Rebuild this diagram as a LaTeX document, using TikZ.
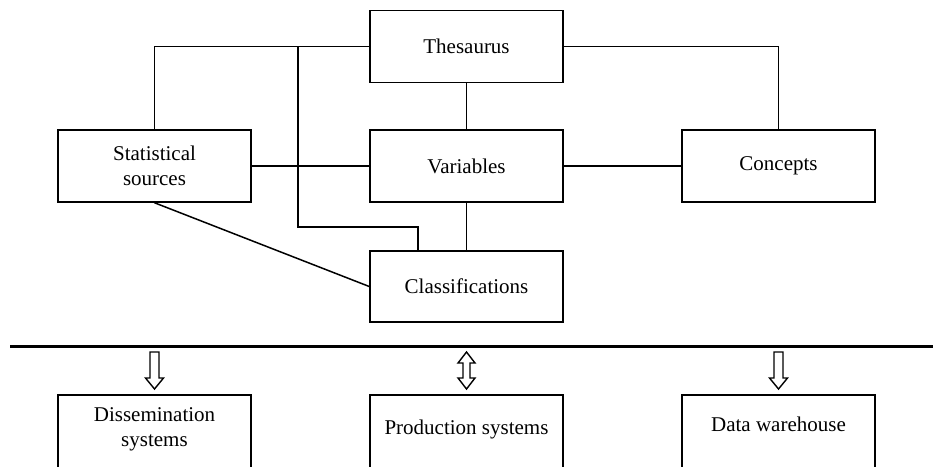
\documentclass[tikz,border=0pt]{standalone}
\usepackage{fontspec}
\setmainfont{Liberation Serif}
\begin{document}
\begin{tikzpicture}[x=1pt,y=-1pt,
  box/.style={draw, line width=1.5pt, rectangle, minimum width=193pt, minimum height=72pt,
              align=center, inner sep=0pt, font=\fontsize{21}{25}\selectfont},
  link/.style={line width=1.5pt},
  divider/.style={line width=3pt},
  blockarrow/.style={draw, line width=1.4pt, fill=white, line join=miter},
  pics/downarrow/.style={code={
    \path[blockarrow] (-4.5,0) -- (4.5,0) -- (4.5,26) -- (9,26) -- (0,37) -- (-9,26) -- (-4.5,26) -- cycle;}},
  pics/updownarrow/.style={code={
    \path[blockarrow] (0,0) -- (8.5,11) -- (3.5,11) -- (3.5,26) -- (8.5,26) -- (0,37)
      -- (-8.5,26) -- (-3.5,26) -- (-3.5,11) -- (-8.5,11) -- cycle;}}
]
\useasboundingbox (0,0) rectangle (933,466);
\clip (0,0) rectangle (933,466);

% upper part: metadata components
\node[box] (thes) at (466.5,46.5) {Thesaurus};
\node[box] (stat) at (154.5,166) {Statistical\\sources};
\node[box] (var)  at (466.5,166) {Variables};
\node[box] (conc) at (778.5,166) {Concepts};
\node[box, minimum height=71pt] (clas) at (466.5,286.5) {Classifications};

% links between the components
\draw[link] (thes.west) -| (stat.north);
\draw[link] (thes.east) -| (conc.north);
\draw[link] (thes.south) -- (var.north);
\draw[link] (var.south) -- (clas.north);
\draw[link] (stat.east) -- (var.west);
\draw[link] (var.east) -- (conc.west);
\draw[link] (stat.south) -- (clas.west);
\coordinate (j1) at (298,46.5);
\coordinate (bend) at (418,227);
\draw[link] (j1) |- (bend) -- (bend |- clas.north);

% dividing line
\coordinate (divL) at (10,346.5);
\coordinate (divR) at (940,346.5);
\draw[divider] (divL) -- (divR);

% lower part: systems using the metadata
\node[box, minimum height=72.5pt, anchor=north] (diss) at (154.5,394) {};
\node[box, minimum height=72.5pt, anchor=north] (prod) at (466.5,394) {};
\node[box, minimum height=72.5pt, anchor=north] (dw)   at (778.5,394) {};
\node[align=center, inner sep=0pt, font=\fontsize{21}{25}\selectfont] (dissT) at (154.5,429.5) {Dissemination\\systems};
\node[inner sep=0pt, font=\fontsize{21}{25}\selectfont] (prodT) at (466.5,429) {Production systems};
\node[inner sep=0pt, font=\fontsize{21}{25}\selectfont] (dwT) at (778.5,424) {Data warehouse};

% block arrows between the divider and the systems
\pic at (154.5,352) {downarrow};
\pic at (466.5,352) {updownarrow};
\pic at (778.5,352) {downarrow};
\end{tikzpicture}
\end{document}
